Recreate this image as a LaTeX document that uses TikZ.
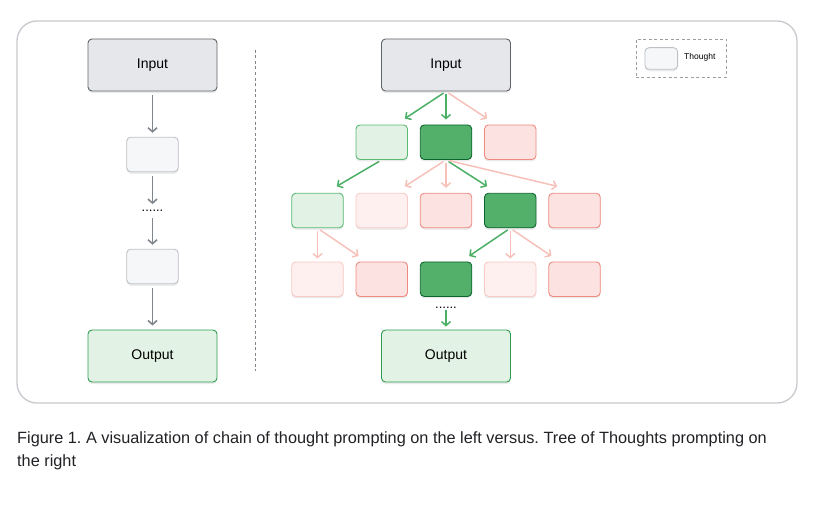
\documentclass[tikz,border=0pt]{standalone}
\usepackage{fontspec}
\setmainfont{Liberation Sans}
\usetikzlibrary{arrows.meta,shadows}
\frenchspacing

\definecolor{framegray}{HTML}{C6C9CD}
\definecolor{inputfill}{HTML}{E6E7EA}
\definecolor{inputdraw}{HTML}{5F6368}
\definecolor{thoughtfill}{HTML}{F6F7F9}
\definecolor{thoughtdraw}{HTML}{BDC1C6}
\definecolor{lgfill}{HTML}{E2F2E5}
\definecolor{lgdraw}{HTML}{5BB974}
\definecolor{outdraw}{HTML}{2E9E4F}
\definecolor{dgfill}{HTML}{52B06A}
\definecolor{dgdraw}{HTML}{0D652D}
\definecolor{pkfill}{HTML}{FCE3E2}
\definecolor{pkdraw}{HTML}{EE8A7F}
\definecolor{ppfill}{HTML}{FDF0EF}
\definecolor{ppdraw}{HTML}{F9CBC6}
\definecolor{grayarrow}{HTML}{80868B}
\definecolor{greenarrow}{HTML}{4CAF66}
\definecolor{pinkarrow}{HTML}{F7C1BA}
\definecolor{captext}{HTML}{202124}

\begin{document}
\begin{tikzpicture}[x=1pt, y=-1pt,
	anybox/.style={draw, rounded corners=4pt, line width=0.9pt,
		drop shadow={shadow xshift=0pt, shadow yshift=-2pt, opacity=0.08, fill=black}},
	bigbox/.style={anybox, minimum width=129pt, minimum height=52pt, font=\fontsize{14}{16}\selectfont},
	smallbox/.style={anybox, minimum width=51.5pt, minimum height=34.5pt},
	inbox/.style={bigbox, fill=inputfill, draw=inputdraw},
	outbox/.style={bigbox, fill=lgfill, draw=outdraw},
	thoughtbox/.style={smallbox, fill=thoughtfill, draw=thoughtdraw},
	good/.style={smallbox, fill=lgfill, draw=lgdraw},
	best/.style={smallbox, fill=dgfill, draw=dgdraw},
	bad/.style={smallbox, fill=pkfill, draw=pkdraw},
	faint/.style={smallbox, fill=ppfill, draw=ppdraw},
	chainarrow/.style={draw=grayarrow, line width=1.6pt, -{Straight Barb[length=4pt, width=9pt]}},
	keeparrow/.style={draw=greenarrow, line width=1.5pt, -{Straight Barb[length=4pt, width=9pt]}},
	droparrow/.style={draw=pinkarrow, line width=1.5pt, -{Straight Barb[length=4pt, width=9pt]}},
	dots/.style={font=\fontsize{13}{15}\selectfont, inner sep=0pt},
	captionline/.style={anchor=base west, inner sep=0pt, text=captext, font=\fontsize{16.3}{18}\selectfont}
	]
	\useasboundingbox (0, 0) rectangle (819, 511);
	
	% frame and divider
	\draw[framegray, line width=1.3pt, rounded corners=20pt] (17, 21) rectangle (797, 403);
	\draw[grayarrow, line width=0.7pt, dash pattern=on 3pt off 2.5pt] (255, 50) -- (255, 371);
	
	% chain of thought
	\node[inbox] (cin) at (152.5, 65) {Input};
	\node[thoughtbox] (ct1) at (152.5, 154.5) {};
	\node[dots] (cdots) at (152.5, 211) {......};
	\node[thoughtbox] (ct2) at (152.5, 266.5) {};
	\node[outbox] (cout) at (152.5, 356) {Output};
	
	\draw[chainarrow, shorten <=4pt, shorten >=4pt] (cin) -- (ct1);
	\draw[chainarrow, shorten <=4pt, shorten >=6pt] (ct1) -- (cdots);
	\draw[chainarrow, shorten <=6pt, shorten >=4pt] (cdots) -- (ct2);
	\draw[chainarrow, shorten <=4pt, shorten >=4pt] (ct2) -- (cout);
	
	% tree of thoughts
	\node[inbox] (tin) at (446, 65) {Input};
	\foreach \s [count=\i] in {good, best, bad}
		\node[\s] (a\i) at ({446+64.25*(\i-2)}, 142.2) {};
	\foreach \s [count=\i] in {good, faint, bad, best, bad}
		\node[\s] (b\i) at ({446+64.25*(\i-3)}, 210.5) {};
	\foreach \s [count=\i] in {faint, bad, best, faint, bad}
		\node[\s] (c\i) at ({446+64.25*(\i-3)}, 279.2) {};
	\node[dots] (tdots) at (446, 307.5) {......};
	\node[outbox] (tout) at (446, 356) {Output};
	
	\draw[keeparrow, shorten <=3pt] (tin.south) -- ([xshift=-3pt, yshift=6pt]a1.north east);
	\draw[keeparrow, shorten <=3pt, shorten >=5pt] (tin.south) -- (a2.north);
	\draw[droparrow, shorten <=3pt] (tin.south) -- ([xshift=3pt, yshift=6pt]a3.north west);
	
	\draw[keeparrow, shorten <=3pt] (a1.south) -- ([xshift=-7pt, yshift=6.5pt]b1.north east);
	\draw[droparrow, shorten <=3pt] (a2.south) -- ([xshift=-3pt, yshift=6.5pt]b2.north east);
	\draw[droparrow, shorten <=3pt, shorten >=5pt] (a2.south) -- (b3.north);
	\draw[keeparrow, shorten <=3pt] (a2.south) -- ([xshift=3pt, yshift=6.5pt]b4.north west);
	\draw[droparrow, shorten <=3pt] (a2.south) -- ([xshift=9pt, yshift=6.5pt]b5.north west);
	
	\draw[droparrow, shorten <=3pt, shorten >=3pt] (b1.south) -- (c1.north);
	\draw[droparrow, shorten <=3pt] (b1.south) -- ([xshift=3pt, yshift=5.5pt]c2.north west);
	\draw[keeparrow, shorten <=3pt] (b4.south) -- ([xshift=-3pt, yshift=5.5pt]c3.north east);
	\draw[droparrow, shorten <=3pt, shorten >=3pt] (b4.south) -- (c4.north);
	\draw[droparrow, shorten <=3pt] (b4.south) -- ([xshift=3pt, yshift=5.5pt]c5.north west);
	
	\draw[keeparrow, shorten <=2pt, shorten >=3pt] (tdots.south) -- (tout.north);
	
	% legend
	\node[draw=grayarrow!80, line width=0.6pt, dash pattern=on 3pt off 2.5pt,
		minimum width=90.7pt, minimum height=38pt] (legend) at (681.3, 58.3) {};
	\node[thoughtbox, minimum width=32.7pt, minimum height=21.6pt] (lthought) at (661.3, 58.5) {};
	\node[anchor=west, inner sep=0pt, font=\fontsize{8.5}{10}\selectfont] (ltext) at (684, 57.7) {Thought};
	
	% caption
	\node[captionline] (cap1) at (17, 443.5)
		{Figure 1. A visualization of chain of thought prompting on the left versus. Tree of Thoughts prompting on};
	\node[captionline] (cap2) at (17, 466) {the right};
\end{tikzpicture}
\end{document}
